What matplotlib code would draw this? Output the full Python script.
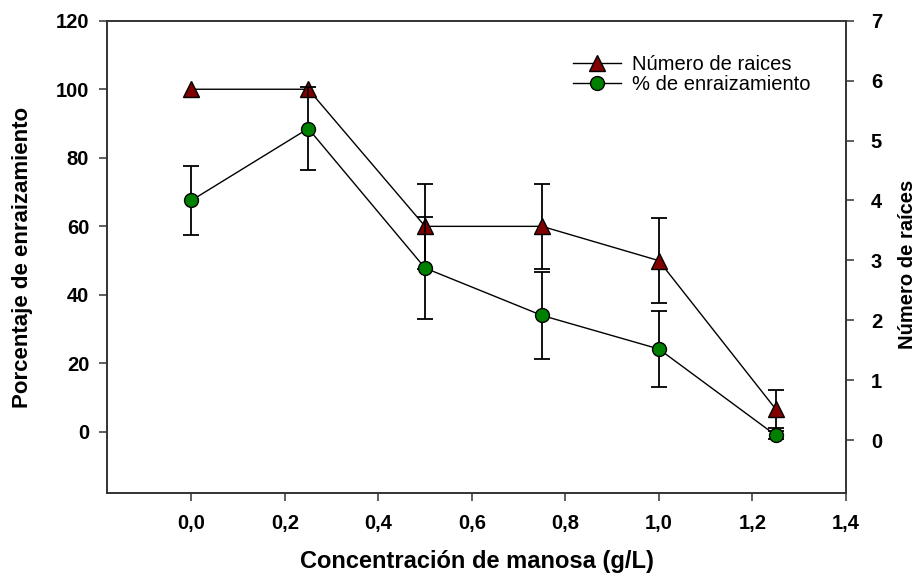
import matplotlib
matplotlib.use('Agg')
import matplotlib.pyplot as plt
import numpy as np

# datos
manosa = [0.0, 0.25, 0.5, 0.75, 1.0, 1.25]
pct_enraiz = [100, 100, 60, 60, 50, 6.7]       # triangulos, eje izquierdo
pct_err = [0, 0, 12.5, 12.5, 12.5, 5.6]
n_raices = [4.0, 5.2, 2.87, 2.08, 1.52, 0.08]   # circulos, eje derecho
raices_err = [0.57, 0.7, 0.85, 0.72, 0.63, 0.07]

xticks = [0.0, 0.2, 0.4, 0.6, 0.8, 1.0, 1.2, 1.4]
xticklabels = ['0,0', '0,2', '0,4', '0,6', '0,8', '1,0', '1,2', '1,4']

plt.rcParams['font.family'] = ['Liberation Sans', 'DejaVu Sans']

fig = plt.figure(figsize=(9.21, 5.75), dpi=100)
ax = fig.add_axes([0.1165, 0.142, 0.8018, 0.822])
ax2 = ax.twinx()

x = np.array(manosa)
p = np.array(pct_enraiz)
pe = np.array(pct_err)
r = np.array(n_raices)
re_ = np.array(raices_err)

# eje izquierdo: triangulos
m = pe > 0
ax.errorbar(x[m], p[m], yerr=pe[m], fmt='none', ecolor='black',
            elinewidth=1.3, capsize=6, capthick=1.3, zorder=2)
l1, = ax.plot(x, p, '-', color='black', lw=1, marker='^', ms=11,
              mfc='#800000', mec='black', mew=1, zorder=3,
              label='Número de raices')

# eje derecho: circulos
ax2.errorbar(x, r, yerr=re_, fmt='none', ecolor='black',
             elinewidth=1.3, capsize=6, capthick=1.3, zorder=2)
l2, = ax2.plot(x, r, '-', color='black', lw=1, marker='o', ms=10,
               mfc='#008000', mec='black', mew=1, zorder=3,
               label='% de enraizamiento')

ax.set_xlim(-0.18, 1.4)
ax.set_ylim(-17.9, 120)
ax2.set_ylim(-0.89, 7)
ax.set_xticks(xticks)
ax.set_xticklabels(xticklabels)
ax.set_yticks(range(0, 121, 20))
ax2.set_yticks(range(0, 8))

for a in (ax, ax2):
    for s in a.spines.values():
        s.set_linewidth(1.2)
        s.set_color('#333333')
ax.tick_params(direction='out', length=6, width=1.1, color='#333333',
               labelsize=14.5)
ax.tick_params(axis='x', pad=9)
ax.tick_params(axis='y', pad=7)
ax2.tick_params(direction='out', length=6, width=1.1, color='#333333',
                labelsize=14.5, pad=12)
for lab in ax.get_xticklabels() + ax.get_yticklabels() + ax2.get_yticklabels():
    lab.set_fontweight('bold')

ax.set_xlabel('Concentración de manosa (g/L)', fontsize=17,
              fontweight='bold', labelpad=12)
ax.set_ylabel('Porcentaje de enraizamiento', fontsize=16,
              fontweight='bold')
ax.yaxis.set_label_coords(-0.1, 0.5)
ax2.set_ylabel('Número de raíces', fontsize=14.5, fontweight='bold')
ax2.yaxis.set_label_coords(1.071, 0.485)

ax2.legend(handles=[l1, l2], loc='upper left', bbox_to_anchor=(0.63, 0.927),
           frameon=False, fontsize=14.5, handlelength=2.4, handletextpad=0.55,
           labelspacing=0.05, borderpad=0, borderaxespad=0)

fig.savefig('out.png', dpi=100)
